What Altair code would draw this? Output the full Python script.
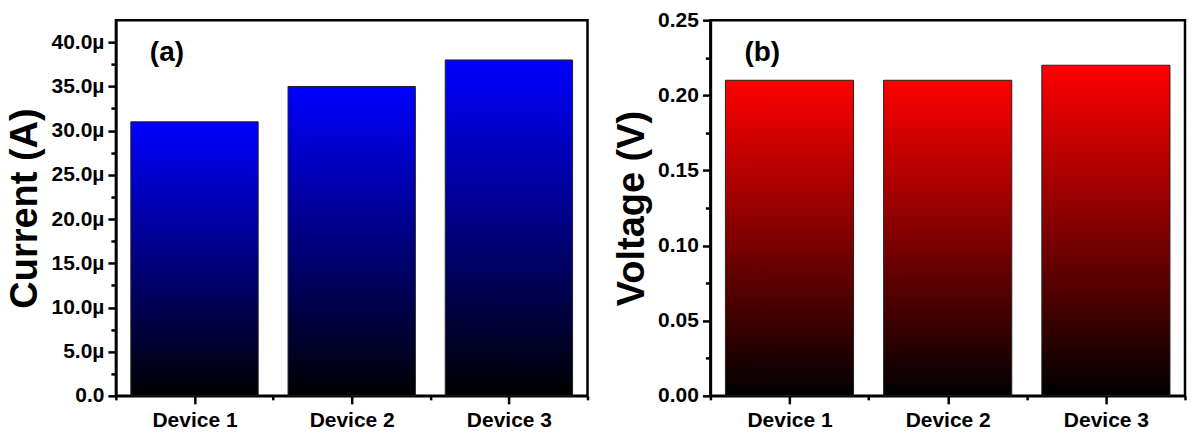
import altair as alt
import pandas as pd

# Device characteristics
devices = ["Device 1", "Device 2", "Device 3"]
positions = [1, 2, 3]
current_a = [31e-6, 35e-6, 38e-6]
voltage_v = [0.21, 0.21, 0.22]

# Axis tick positions (major + minor)
current_ticks = [0, 2.5e-6, 5e-6, 7.5e-6, 10e-6, 12.5e-6, 15e-6, 17.5e-6, 20e-6,
                 22.5e-6, 25e-6, 27.5e-6, 30e-6, 32.5e-6, 35e-6, 37.5e-6, 40e-6]
voltage_ticks = [0, 0.025, 0.05, 0.075, 0.10, 0.125, 0.15, 0.175, 0.20, 0.225, 0.25]
x_ticks = [0.5, 1, 1.5, 2, 2.5, 3, 3.5]

FONT = "Liberation Sans"
HALF_BAR = 0.405

df = pd.DataFrame({"device": devices, "pos": positions,
                   "current": current_a, "voltage": voltage_v})

device_expr = ("round(datum.value) == datum.value ? "
               + "[" + ",".join(f"'{d}'" for d in devices) + "][datum.value - 1] : ''")


def gradient(top):
    return alt.Gradient(
        gradient="linear",
        stops=[alt.GradientStop(color=top, offset=0),
               alt.GradientStop(color="#000000", offset=1)],
        x1=0, x2=0, y1=0, y2=1,
    )


def panel(field, top_color, domain, ticks, major_step, label_fmt, title, tag, width):
    k = 2 / major_step
    major = f"round(datum.value * {k}) % 2 == 0"
    y_axis = alt.Axis(
        values=ticks, title=title, grid=False,
        labelExpr=f"{major} ? ({label_fmt}) : ''",
        tickSize={"condition": {"test": major, "value": 8}, "value": 5},
        labelPadding=4, titlePadding=6, labelOverlap=False, labelFlush=False,
    )
    x_axis = alt.Axis(
        values=x_ticks, title=None, grid=False, labelExpr=device_expr,
        tickSize={"condition": {"test": "round(datum.value) == datum.value", "value": 8}, "value": 4},
        labelPadding=6, labelOverlap=False, labelFlush=False,
    )
    base = alt.Chart(df).transform_calculate(
        x0=f"datum.pos - {HALF_BAR}", x1=f"datum.pos + {HALF_BAR}"
    )
    bars = base.mark_bar(color=gradient(top_color), stroke="#222222", strokeWidth=1).encode(
        x=alt.X("x0:Q", scale=alt.Scale(domain=[0.5, 3.5], nice=False, zero=False), axis=x_axis),
        x2="x1:Q",
        y=alt.Y(f"{field}:Q", scale=alt.Scale(domain=domain, nice=False), axis=y_axis),
        y2=alt.datum(0),
    )
    label = alt.Chart(pd.DataFrame({"tag": [tag]})).mark_text(
        align="left", baseline="middle", font=FONT, fontSize=28, fontWeight="bold", color="black"
    ).encode(x=alt.value(34), y=alt.value(33), text="tag:N")
    return alt.layer(bars, label).properties(width=width, height=376)


left = panel("current", "#0000ff", [0, 42.5e-6], current_ticks, 5e-6,
             "datum.value == 0 ? '0.0' : format(datum.value * 1e6, '.1f') + 'µ'",
             "Current (A)", "(a)", 472)
right = panel("voltage", "#ff0000", [0, 0.25], voltage_ticks, 0.05,
              "format(datum.value, '.2f')", "Voltage (V)", "(b)", 475)

chart = alt.hconcat(left, right, spacing=21).properties(
    padding={"left": 5, "top": 7, "right": 4, "bottom": 5},
    background="white",
).configure_view(
    stroke="black", strokeWidth=2.5
).configure_axis(
    domainColor="black", domainWidth=2.5, tickColor="black", tickWidth=2.5,
    labelFont=FONT, labelFontSize=21, labelFontWeight="bold", labelColor="black",
    titleFont=FONT, titleFontSize=38, titleFontWeight="bold", titleColor="black",
)

chart.save("out.html", embed_options={"renderer": "svg", "actions": False})
